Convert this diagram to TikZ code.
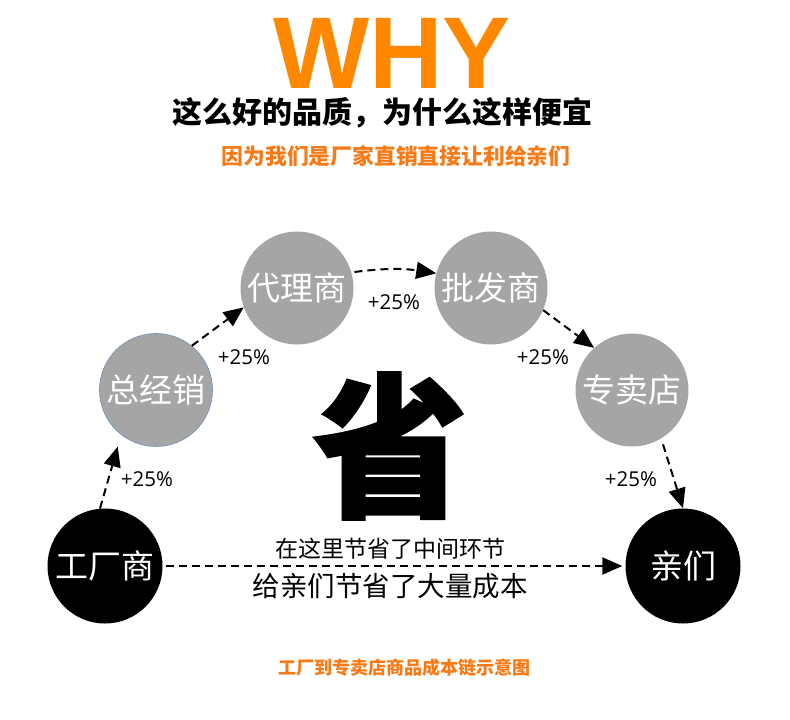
\documentclass[tikz,border=0pt]{standalone}
\usepackage{fontspec}
\usetikzlibrary{arrows.meta}
\newfontfamily\cjk{Noto Sans CJK SC}
\newfontfamily\cjkheavy[BoldFeatures={FakeBold=1.5}]{Noto Sans CJK SC}
\newfontfamily\latinbold{Liberation Sans}
\newfontfamily\pctfont{Open Sans}
\definecolor{whyorange}{RGB}{255,136,0}
\definecolor{suborange}{RGB}{248,122,22}
\definecolor{circgray}{RGB}{165,165,165}
\definecolor{arrowgray}{RGB}{35,35,35}
\definecolor{rimblue}{RGB}{120,150,185}
\tikzset{
  graycirc/.style={circle, minimum size=113pt, inner sep=0pt, fill=circgray,
    text=white, font=\cjk\fontsize{33}{33}\selectfont},
  blackcirc/.style={circle, minimum size=115pt, inner sep=0pt, fill=black,
    text=white, font=\cjk\fontsize{33}{33}\selectfont},
  flowarrow/.style={draw=arrowgray, line width=2pt, dash pattern=on 8pt off 5pt,
    -{Triangle[length=20pt,width=17pt]}, black},
  pct/.style={font=\pctfont\fontsize{20.5}{20.5}\selectfont, inner sep=0pt}
}
\begin{document}
\begin{tikzpicture}[x=1pt,y=-1pt]
\useasboundingbox (0,0) rectangle (790,720);
% headings
\node[font=\latinbold\bfseries\fontsize{102}{102}\selectfont, text=whyorange, inner sep=0pt, text height=73pt, text depth=0pt] (why) at (392,51.5) {WHY};
\node[font=\cjk\bfseries\fontsize{30}{30}\selectfont, inner sep=0pt] (title) at (382,112.5) {这么好的品质，为什么这样便宜};
\node[font=\cjk\bfseries\fontsize{21.8}{21.8}\selectfont, text=suborange, inner sep=0pt] (sub) at (396,156) {因为我们是厂家直销直接让利给亲们};
% circles
\node[blackcirc] (fac) at (105,566) {工厂商};
\node[graycirc, draw=rimblue, line width=0.7pt] (zj) at (156,390) {总经销};
\node[graycirc] (dl) at (297,288) {代理商};
\node[graycirc] (pf) at (491,288) {批发商};
\node[graycirc] (zm) at (632,390) {专卖店};
\node[blackcirc] (qm) at (683,566) {亲们};
% big character
\node[font=\cjkheavy\bfseries\fontsize{155}{155}\selectfont, inner sep=0pt] (sheng) at (390,446) {省};
% arrows
\draw[flowarrow] (fac.95) -- ([shift={(-6.5,9.5)}]zj.236);
\draw[flowarrow] (zj.51) -- (dl.200);
\draw[flowarrow, shorten <=3pt] (dl.16) to[bend left=8] (pf.165);
\draw[flowarrow] (pf.337) -- (zm.132);
\draw[flowarrow, shorten <=6pt] (zm.301) -- (qm.90);
\draw[flowarrow, shorten <=3pt] (fac.east) -- ([xshift=-3pt]qm.west);
% percentages
\node[pct] (p1) at (147,479) {+25\%};
\node[pct] (p2) at (244,357) {+25\%};
\node[pct] (p3) at (394,302) {+25\%};
\node[pct] (p4) at (543,357) {+25\%};
\node[pct] (p5) at (631,479) {+25\%};
% middle texts
\node[font=\cjk\fontsize{23}{23}\selectfont, inner sep=0pt] (t1) at (390,549) {在这里节省了中间环节};
\node[font=\cjk\fontsize{27.5}{27.5}\selectfont, inner sep=0pt] (t2) at (390,586) {给亲们节省了大量成本};
% footer
\node[font=\cjk\bfseries\fontsize{18}{18}\selectfont, text=suborange, inner sep=0pt] (foot) at (404,668) {工厂到专卖店商品成本链示意图};
\end{tikzpicture}
\end{document}
